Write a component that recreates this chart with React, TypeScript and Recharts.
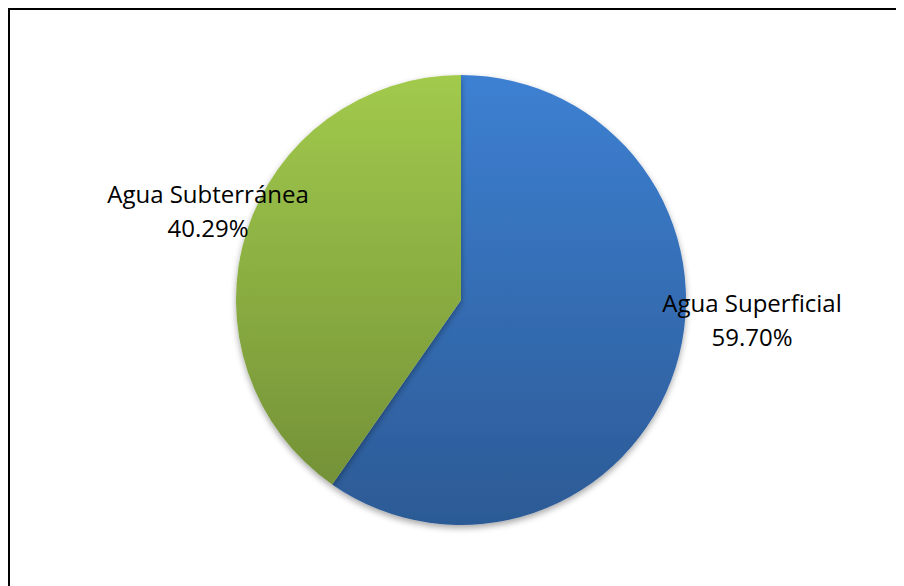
import React from "react";
import { PieChart, Pie, Cell } from "recharts";

const categories = ["Agua Superficial", "Agua Subterránea"];
const values = [59.7, 40.29];
const percentLabels = ["59.70%", "40.29%"];

const data = categories.map((name, i) => ({ name, value: values[i], pct: percentLabels[i] }));

const gradientIds = ["gradBlue", "gradGreen"];
// label anchor offsets relative to pie center (style only)
const labelOffsets = [
  { dx: 291, dy: 2 },
  { dx: -253, dy: -107 },
];

const W = 896;
const H = 578;
const CX = 453;
const CY = 292;
const R = 225;

const renderLabel = (props: any) => {
  const { cx, cy, index } = props;
  const o = labelOffsets[index];
  const x = cx + o.dx;
  const y = cy + o.dy;
  return (
    <g>
      <text x={x} y={y} textAnchor="middle" dominantBaseline="central" fill="#000" fontSize={24} fontFamily="'Open Sans', sans-serif">
        {data[index].name}
      </text>
      <text x={x} y={y + 34} textAnchor="middle" dominantBaseline="central" fill="#000" fontSize={24} fontFamily="'Open Sans', sans-serif">
        {data[index].pct}
      </text>
    </g>
  );
};

export default function App() {
  return (
    <div style={{ position: "relative", width: W, height: H, overflow: "hidden" }}>
      <PieChart
        width={W}
        height={H}
        margin={{ top: 0, right: 0, bottom: 0, left: 0 }}
        accessibilityLayer={false}
        style={{ outline: "none" }}
      >
        <defs>
          <linearGradient id="gradBlue" gradientUnits="userSpaceOnUse" x1="0" y1={CY - R} x2="0" y2={CY + R}>
            <stop offset="0%" stopColor="#3d80d2" />
            <stop offset="100%" stopColor="#2c5a95" />
          </linearGradient>
          <linearGradient id="gradGreen" gradientUnits="userSpaceOnUse" x1="0" y1={CY - R} x2="0" y2={CY + R}>
            <stop offset="0%" stopColor="#a2ca4c" />
            <stop offset="100%" stopColor="#6f8c35" />
          </linearGradient>
          <filter id="pieShadow" x="-20%" y="-20%" width="140%" height="140%">
            <feDropShadow dx="0" dy="3" stdDeviation="3" floodColor="#000" floodOpacity="0.35" />
          </filter>
        </defs>
        <Pie
          data={data}
          dataKey="value"
          nameKey="name"
          cx={CX}
          cy={CY}
          outerRadius={R}
          startAngle={90}
          endAngle={-270}
          stroke="none"
          label={renderLabel}
          labelLine={false}
          isAnimationActive={false}
          style={{ filter: "url(#pieShadow)" }}
        >
          {data.map((d, i) => (
            <Cell key={d.name} fill={`url(#${gradientIds[i]})`} stroke="none" />
          ))}
        </Pie>
      </PieChart>
      <div style={{ position: "absolute", top: 0, left: 0, width: W, height: 2, background: "#000", pointerEvents: "none" }} />
      <div style={{ position: "absolute", top: 0, left: 0, width: 2, height: H, background: "#000", pointerEvents: "none" }} />
    </div>
  );
}
